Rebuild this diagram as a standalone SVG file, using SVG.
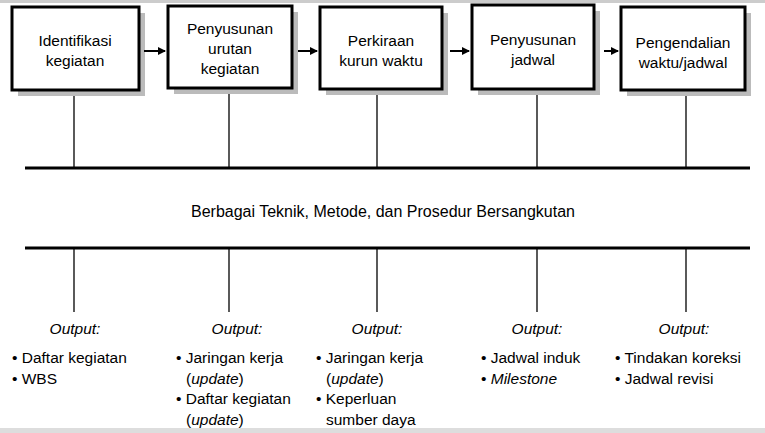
<svg xmlns="http://www.w3.org/2000/svg" width="765" height="433" viewBox="0 0 765 433">
<style>
text{font-family:"Liberation Sans",Arial,sans-serif;font-size:15.5px;fill:#000}
.c{text-anchor:middle}
.i{font-style:italic}
.box{fill:#fff;stroke:#000;stroke-width:3}
.sh{fill:#bbb}
.ln{stroke:#000;stroke-width:1.3}
.ar{stroke:#000;stroke-width:2}
.hl{stroke:#000;stroke-width:3}
</style>
<defs><marker id="a" markerWidth="8" markerHeight="8" refX="7" refY="4" orient="auto" markerUnits="userSpaceOnUse"><path d="M0,0L8,4L0,8z" fill="#000"/></marker></defs>
<rect x="0" y="0" width="765" height="3" fill="#ccc"/>
<rect x="0" y="428" width="765" height="5" fill="#ddd"/>
<g id="n1"><rect class="sh" x="18" y="13" width="127" height="83"/><rect class="box" x="12" y="7" width="127" height="83"/><text class="c" x="75" y="46">Identifikasi</text><text class="c" x="75" y="66">kegiatan</text></g>
<g id="n2"><rect class="sh" x="174" y="12" width="124" height="82"/><rect class="box" x="168" y="6" width="124" height="82"/><text class="c" x="230" y="34">Penyusunan</text><text class="c" x="230" y="54">urutan</text><text class="c" x="230" y="74">kegiatan</text></g>
<g id="n3"><rect class="sh" x="326" y="13" width="122" height="82"/><rect class="box" x="320" y="7" width="122" height="82"/><text class="c" x="381" y="46">Perkiraan</text><text class="c" x="381" y="66">kurun waktu</text></g>
<g id="n4"><rect class="sh" x="478" y="11" width="122" height="84"/><rect class="box" x="472" y="5" width="122" height="84"/><text class="c" x="533" y="45">Penyusunan</text><text class="c" x="533" y="65">jadwal</text></g>
<g id="n5"><rect class="sh" x="627" y="13" width="124" height="83"/><rect class="box" x="621" y="7" width="124" height="83"/><text class="c" x="683" y="48">Pengendalian</text><text class="c" x="683" y="68">waktu/jadwal</text></g>
<g id="connectors">
<line class="ar" x1="144" y1="51" x2="165" y2="51" marker-end="url(#a)"/>
<line class="ar" x1="298" y1="51" x2="317" y2="51" marker-end="url(#a)"/>
<line class="ar" x1="450" y1="51" x2="469" y2="51" marker-end="url(#a)"/>
<line class="ar" x1="604" y1="51" x2="618" y2="51" marker-end="url(#a)"/>
<line class="hl" x1="25" y1="168" x2="750" y2="168"/>
<line class="hl" x1="25" y1="248" x2="750" y2="248"/>
<line class="ln" x1="74" y1="96" x2="74" y2="168"/>
<line class="ln" x1="229" y1="94" x2="229" y2="168"/>
<line class="ln" x1="377" y1="95" x2="377" y2="168"/>
<line class="ln" x1="537" y1="95" x2="537" y2="168"/>
<line class="ln" x1="686" y1="96" x2="686" y2="168"/>
<line class="ln" x1="74" y1="248" x2="74" y2="312"/>
<line class="ln" x1="229" y1="248" x2="229" y2="312"/>
<line class="ln" x1="377" y1="248" x2="377" y2="312"/>
<line class="ln" x1="537" y1="248" x2="537" y2="312"/>
<line class="ln" x1="686" y1="248" x2="686" y2="312"/>
</g>
<text class="c" x="383" y="217" style="font-size:16px">Berbagai Teknik, Metode, dan Prosedur  Bersangkutan</text>
<g id="o1"><text class="c i" x="75" y="334">Output:</text><text x="12" y="363">• Daftar kegiatan</text><text x="12" y="384">• WBS</text></g>
<g id="o2"><text class="c i" x="237" y="334">Output:</text><text x="176" y="363">• Jaringan kerja</text><text x="186" y="384">(<tspan class="i">update</tspan>)</text><text x="176" y="404">• Daftar kegiatan</text><text x="186" y="425">(<tspan class="i">update</tspan>)</text></g>
<g id="o3"><text class="c i" x="377" y="334">Output:</text><text x="316" y="363">• Jaringan kerja</text><text x="326" y="384">(<tspan class="i">update</tspan>)</text><text x="316" y="404">• Keperluan</text><text x="326" y="425">sumber daya</text></g>
<g id="o4"><text class="c i" x="537" y="334">Output:</text><text x="481" y="363">• Jadwal  induk</text><text x="481" y="384">• <tspan class="i">Milestone</tspan></text></g>
<g id="o5"><text class="c i" x="684" y="334">Output:</text><text x="615" y="363">• Tindakan koreksi</text><text x="615" y="384">• Jadwal revisi</text></g>
</svg>
